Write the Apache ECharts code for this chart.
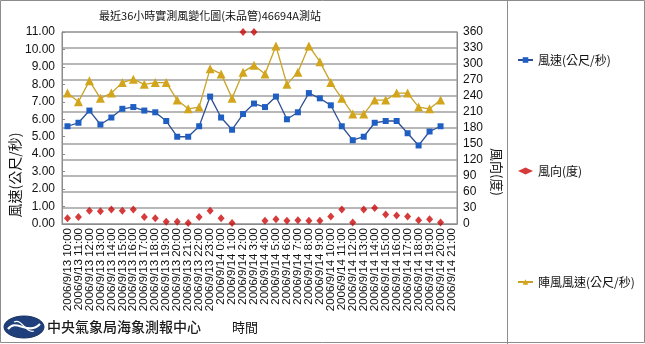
<!DOCTYPE html>
<html>
<head>
<meta charset="utf-8">
<script src="https://cdn.jsdelivr.net/npm/echarts@6/dist/echarts.min.js"></script>
<style>
  html, body { margin: 0; padding: 0; background: #fff; }
  #chart { width: 645px; height: 344px; }
</style>
</head>
<body>
<div id="chart"></div>
<script>
// Observation times (hourly, last 36 hours)
var categories = [
  '2006/9/13 10:00', '2006/9/13 11:00', '2006/9/13 12:00', '2006/9/13 13:00',
  '2006/9/13 14:00', '2006/9/13 15:00', '2006/9/13 16:00', '2006/9/13 17:00',
  '2006/9/13 18:00', '2006/9/13 19:00', '2006/9/13 20:00', '2006/9/13 21:00',
  '2006/9/13 22:00', '2006/9/13 23:00', '2006/9/14 0:00', '2006/9/14 1:00',
  '2006/9/14 2:00', '2006/9/14 3:00', '2006/9/14 4:00', '2006/9/14 5:00',
  '2006/9/14 6:00', '2006/9/14 7:00', '2006/9/14 8:00', '2006/9/14 9:00',
  '2006/9/14 10:00', '2006/9/14 11:00', '2006/9/14 12:00', '2006/9/14 13:00',
  '2006/9/14 14:00', '2006/9/14 15:00', '2006/9/14 16:00', '2006/9/14 17:00',
  '2006/9/14 18:00', '2006/9/14 19:00', '2006/9/14 20:00', '2006/9/14 21:00'
];

// 風速 (m/s)
var windSpeed = [
  5.6, 5.8, 6.5, 5.7, 6.1, 6.6, 6.7, 6.5, 6.4, 5.9, 5.0, 5.0,
  5.6, 7.3, 6.1, 5.4, 6.3, 6.9, 6.7, 7.3, 6.0, 6.4, 7.5, 7.2,
  6.8, 5.6, 4.8, 5.0, 5.8, 5.9, 5.9, 5.2, 4.5, 5.3, 5.6, null
];

// 風向 (degrees)
var windDir = [
  11, 13, 25, 24, 27, 25, 27, 13, 11, 4, 4, 2,
  13, 25, 11, 2, 360, 360, 6, 9, 6, 7, 6, 6,
  14, 27, 3, 27, 30, 18, 16, 14, 7, 9, 3, null
];

// 陣風風速 (m/s)
var gustSpeed = [
  7.5, 7.0, 8.2, 7.2, 7.5, 8.1, 8.3, 8.0, 8.1, 8.1, 7.1, 6.6,
  6.7, 8.9, 8.6, 7.2, 8.7, 9.1, 8.6, 10.2, 8.0, 8.7, 10.2, 9.3,
  8.1, 7.2, 6.3, 6.3, 7.1, 7.1, 7.5, 7.5, 6.7, 6.6, 7.1, null
];

var seriesNames = ['風速(公尺/秒)', '風向(度)', '陣風風速(公尺/秒)'];

var latin = '"Liberation Sans", Arial, sans-serif';
var cjk = '"Noto Sans CJK TC", "Noto Sans", sans-serif';
var gridColor = '#a0a0a0';

var chart = echarts.init(document.getElementById('chart'), null, { renderer: 'canvas' });

chart.setOption({
  backgroundColor: '#ffffff',
  animation: false,
  title: {
    text: '最近36小時實測風變化圖(未品管)46694A測站',
    left: 205,
    top: 5,
    textAlign: 'center',
    textStyle: { fontFamily: cjk, fontSize: 11, fontWeight: 'normal', color: '#111' }
  },
  legend: {
    orient: 'vertical',
    left: 512,
    top: 49,
    itemGap: 99,
    itemWidth: 15,
    itemHeight: 7,
    data: seriesNames,
    textStyle: { fontFamily: cjk, fontSize: 12, color: '#111' }
  },
  grid: {
    left: 62, right: 188, top: 32, bottom: 120,
    show: true,
    borderColor: '#8c8c8c',
    borderWidth: 1,
    backgroundColor: '#ffffff'
  },
  xAxis: {
    type: 'category',
    data: categories,
    boundaryGap: true,
    axisLine: { lineStyle: { color: '#8c8c8c' } },
    axisTick: { inside: true, length: 4, alignWithLabel: true, lineStyle: { color: '#8c8c8c' } },
    axisLabel: {
      interval: 0,
      rotate: 90,
      margin: 4,
      fontFamily: latin,
      fontSize: 11.5,
      color: '#111'
    }
  },
  yAxis: [
    {
      type: 'value',
      min: 0, max: 11, interval: 1,
      position: 'left',
      axisLine: { show: true, lineStyle: { color: '#8c8c8c' } },
      axisTick: { show: true, inside: true, length: 3, lineStyle: { color: '#8c8c8c' } },
      splitLine: { show: false },
      axisLabel: {
        margin: 7,
        fontFamily: latin, fontSize: 12, color: '#111',
        formatter: function (v) { return v.toFixed(2); }
      }
    },
    {
      type: 'value',
      min: 0, max: 360, interval: 30,
      position: 'right',
      axisLine: { show: true, lineStyle: { color: '#8c8c8c' } },
      axisTick: { show: false },
      splitLine: { show: true, lineStyle: { color: gridColor, width: 1.5 } },
      axisLabel: { margin: 6, fontFamily: latin, fontSize: 12, color: '#111' }
    }
  ],
  series: [
    {
      name: seriesNames[0],
      type: 'line',
      yAxisIndex: 0,
      data: windSpeed,
      symbol: 'rect',
      symbolSize: 6,
      showAllSymbol: true,
      lineStyle: { color: '#2e4f95', width: 1.3 },
      itemStyle: { color: '#1f5fc4', borderWidth: 0 },
      z: 3
    },
    {
      name: seriesNames[1],
      type: 'scatter',
      yAxisIndex: 1,
      data: windDir,
      symbol: 'diamond',
      symbolSize: [7, 8],
      itemStyle: { color: '#cc0a0a' },
      z: 4
    },
    {
      name: seriesNames[2],
      type: 'line',
      yAxisIndex: 0,
      data: gustSpeed,
      symbol: 'triangle',
      symbolSize: 9,
      showAllSymbol: true,
      lineStyle: { color: '#c9a227', width: 1.3 },
      itemStyle: { color: '#d2a51c', borderWidth: 0 },
      z: 2
    }
  ],
  graphic: [
    // outer frame and legend divider
    { type: 'rect', silent: true, z: -1, shape: { x: 0.5, y: 0.5, width: 644, height: 342 },
      style: { fill: 'none', stroke: '#8c8c8c', lineWidth: 1 } },
    { type: 'line', silent: true, shape: { x1: 507.5, y1: 0, x2: 507.5, y2: 344 },
      style: { stroke: '#8c8c8c', lineWidth: 1 } },
    // axis titles
    { type: 'text', x: 15, y: 175, rotation: Math.PI / 2,
      style: { text: '風速(公尺/秒)', fontFamily: cjk, fontSize: 14, fill: '#111',
               align: 'center', verticalAlign: 'middle' } },
    { type: 'text', x: 497, y: 172, rotation: -Math.PI / 2,
      style: { text: '風向(度)', fontFamily: cjk, fontSize: 13, fill: '#111',
               align: 'center', verticalAlign: 'middle' } },
    { type: 'text', x: 245, y: 327,
      style: { text: '時間', fontFamily: cjk, fontSize: 13, fill: '#111',
               align: 'center', verticalAlign: 'middle' } },
    // agency emblem
    { type: 'ellipse', shape: { cx: 24, cy: 327, rx: 20, ry: 11 },
      style: { fill: '#1f3f7c', stroke: '#17305f', lineWidth: 1 } },
    { type: 'bezierCurve', shape: { x1: 8, y1: 329, x2: 40, y2: 324, cpx1: 16, cpy1: 318, cpx2: 28, cpy2: 336 },
      style: { stroke: '#ffffff', lineWidth: 2.2, fill: 'none' } },
    { type: 'bezierCurve', shape: { x1: 14, y1: 322, x2: 34, y2: 331, cpx1: 22, cpy1: 318, cpx2: 26, cpy2: 334 },
      style: { stroke: '#ffffff', lineWidth: 1.2, fill: 'none' } },
    { type: 'text', x: 47, y: 327,
      style: { text: '中央氣象局海象測報中心', fontFamily: cjk, fontSize: 14, fontWeight: 500,
               fill: '#1a1a1a', align: 'left', verticalAlign: 'middle' } }
  ]
});
</script>
</body>
</html>
